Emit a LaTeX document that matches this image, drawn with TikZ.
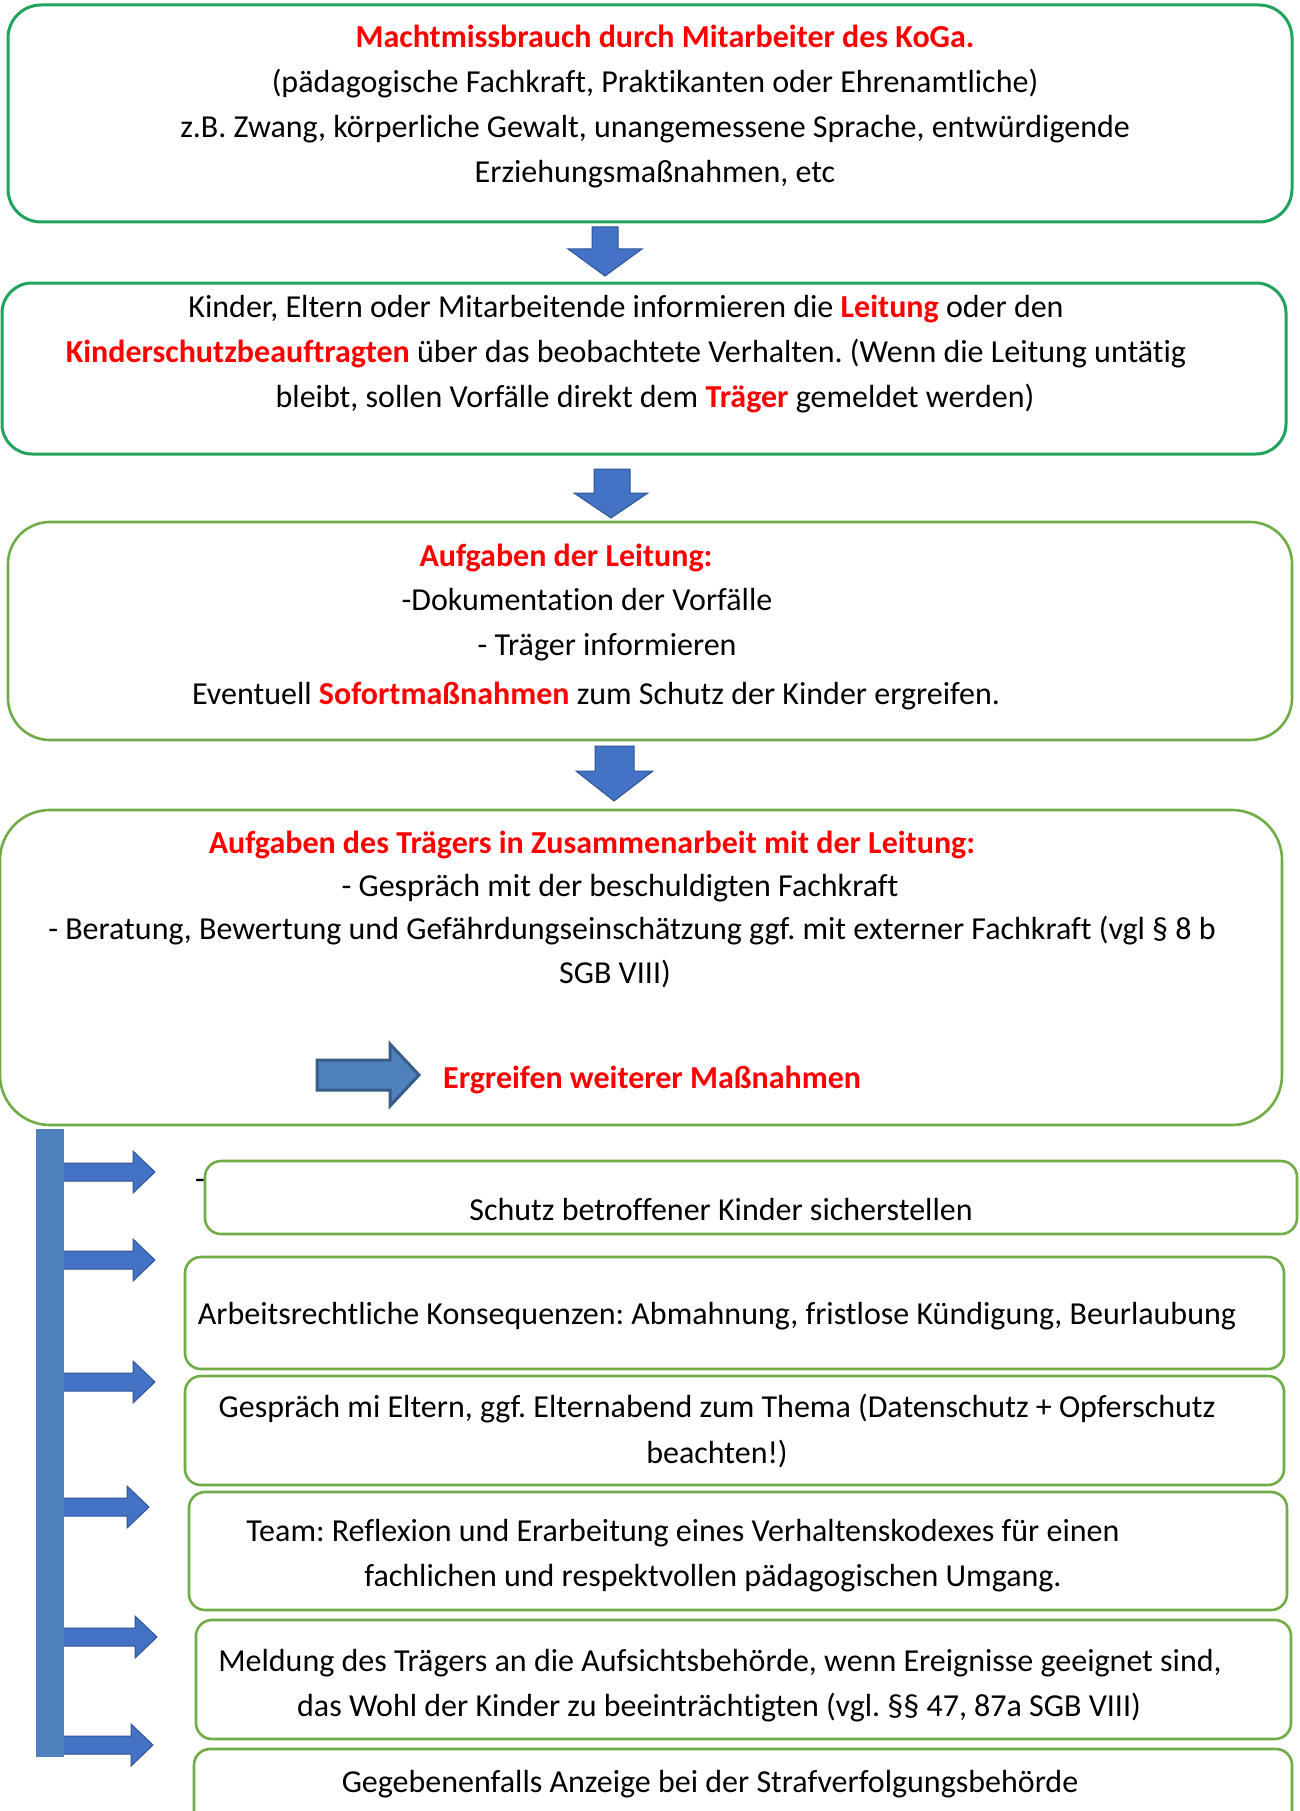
\documentclass[tikz,border=0pt]{standalone}
\usepackage{fontspec}
\setmainfont{Carlito}[Ligatures={NoCommon}]
\frenchspacing
\definecolor{gA}{RGB}{34,163,92}
\definecolor{gB}{RGB}{112,173,71}
\definecolor{redT}{RGB}{255,0,0}
\definecolor{arrA}{RGB}{68,114,196}
\definecolor{arrAd}{RGB}{47,85,151}
\definecolor{barB}{RGB}{79,129,189}
\definecolor{barBd}{RGB}{56,93,138}
\newcommand{\rt}[1]{{\color{redT}\bfseries #1}}
\begin{document}
\frenchspacing
\begin{tikzpicture}[x=1pt,y=-1pt,
  boxA/.style={draw=gA,line width=3pt},
  boxB/.style={draw=gB,line width=2.6pt},
  txt/.style={anchor=base,inner sep=0pt,font=\fontsize{32}{45}\selectfont\frenchspacing},
  downarr/.style={fill=arrA,draw=arrAd,line width=1pt},
  sidearr/.style={fill=arrA,draw=arrAd,line width=1pt}]
\useasboundingbox (0,0) rectangle (1299,1811);
\clip (0,0) rectangle (1299,1811);
\fill[white] (0,0) rectangle (1299,1811);

% boxes
\draw[boxA,rounded corners=33pt] (8,5) rectangle (1292,222);
\draw[boxA,rounded corners=30pt] (2,283) rectangle (1286,454);
\draw[boxB,rounded corners=42pt] (8,522) rectangle (1292,740);
\draw[boxB,rounded corners=50pt] (0,810) rectangle (1282,1125);

% down arrows
\draw[downarr] (592,227) -- (618,227) -- (618,249) -- (642,249) -- (605,276) -- (568,249) -- (592,249) -- cycle;
\draw[downarr] (594,469) -- (630,469) -- (630,493) -- (648,493) -- (611,518) -- (574,493) -- (594,493) -- cycle;
\draw[downarr] (595,746) -- (634,746) -- (634,771) -- (653,771) -- (614,801) -- (576,771) -- (595,771) -- cycle;

% box 1 text
\node[txt] (t11) at (665,48) {\rt{Machtmissbrauch durch Mitarbeiter des KoGa.}};
\node[txt] (t12) at (655,93) {(pädagogische Fachkraft, Praktikanten oder Ehrenamtliche)};
\node[txt] (t13) at (655,138) {z.B. Zwang, körperliche Gewalt, unangemessene Sprache, entwürdigende};
\node[txt] (t14) at (655,183) {Erziehungsmaßnahmen, etc};

% box 2 text
\node[txt] (t21) at (626,317) {Kinder, Eltern oder Mitarbeitende informieren die \rt{Leitung} oder den};
\node[txt] (t22) at (626,362) {\rt{Kinderschutzbeauftragten} über das beobachtete Verhalten. (Wenn die Leitung untätig};
\node[txt] (t23) at (655,407) {bleibt, sollen Vorfälle direkt dem \rt{Träger} gemeldet werden)};

% box 3 text
\node[txt] (t31) at (566,566) {\rt{Aufgaben der Leitung:}};
\node[txt] (t32) at (587,610) {-Dokumentation der Vorfälle};
\node[txt] (t33) at (607,655) {- Träger informieren};
\node[txt] (t34) at (596,704) {Eventuell \rt{Sofortmaßnahmen} zum Schutz der Kinder ergreifen.};

% box 4 text
\node[txt] (t41) at (592,853) {\rt{Aufgaben des Trägers in Zusammenarbeit mit der Leitung:}};
\node[txt] (t42) at (620,896) {- Gespräch mit der beschuldigten Fachkraft};
\node[txt] (t43) at (632,939) {- Beratung, Bewertung und Gefährdungseinschätzung ggf. mit externer Fachkraft (vgl § 8 b};
\node[txt] (t44) at (615,983) {SGB VIII)};
\draw[fill=barB,draw=barBd,line width=3pt] (317,1060) -- (390,1060) -- (390,1044) -- (419,1075) -- (390,1106) -- (390,1090) -- (317,1090) -- cycle;
\node[txt,anchor=base west] (t45) at (443,1088) {\rt{Ergreifen weiterer Maßnahmen}};

% vertical bar
\fill[barB] (36,1129) rectangle (64,1757);

% side arrows
\foreach \yy/\tip in {1172/155,1260/155,1382/155,1507/149,1637/157,1745/153}{
  \draw[sidearr] (64,\yy-9) -- (\tip-22,\yy-9) -- (\tip-22,\yy-21) -- (\tip,\yy) -- (\tip-22,\yy+21) -- (\tip-22,\yy+9) -- (64,\yy+9);
}

% lower boxes
\draw[boxB,rounded corners=16pt] (205,1161) rectangle (1297,1234);
\draw[boxB,rounded corners=16pt] (185,1257) rectangle (1284,1369);
\draw[boxB,rounded corners=16pt] (185,1376) rectangle (1284,1485);
\draw[boxB,rounded corners=16pt] (189,1492) rectangle (1287,1610);
\draw[boxB,rounded corners=16pt] (196,1620) rectangle (1291,1739);
\draw[boxB,rounded corners=16pt] (194,1749) rectangle (1292,1860);

\node[txt] (d1) at (200,1189) {-};
\node[txt] (u1) at (721,1220) {Schutz betroffener Kinder sicherstellen};
\node[txt] (u2) at (717,1324) {Arbeitsrechtliche Konsequenzen: Abmahnung, fristlose Kündigung, Beurlaubung};
\node[txt] (u31) at (717,1417) {Gespräch mi Eltern, ggf. Elternabend zum Thema (Datenschutz + Opferschutz};
\node[txt] (u32) at (717,1463) {beachten!)};
\node[txt] (u41) at (683,1541) {Team: Reflexion und Erarbeitung eines Verhaltenskodexes für einen};
\node[txt] (u42) at (713,1586) {fachlichen und respektvollen pädagogischen Umgang.};
\node[txt] (u51) at (720,1671) {Meldung des Trägers an die Aufsichtsbehörde, wenn Ereignisse geeignet sind,};
\node[txt] (u52) at (719,1716) {das Wohl der Kinder zu beeinträchtigten (vgl. §§ 47, 87a SGB VIII)};
\node[txt] (u6) at (710,1792) {Gegebenenfalls Anzeige bei der Strafverfolgungsbehörde};
\end{tikzpicture}
\end{document}
